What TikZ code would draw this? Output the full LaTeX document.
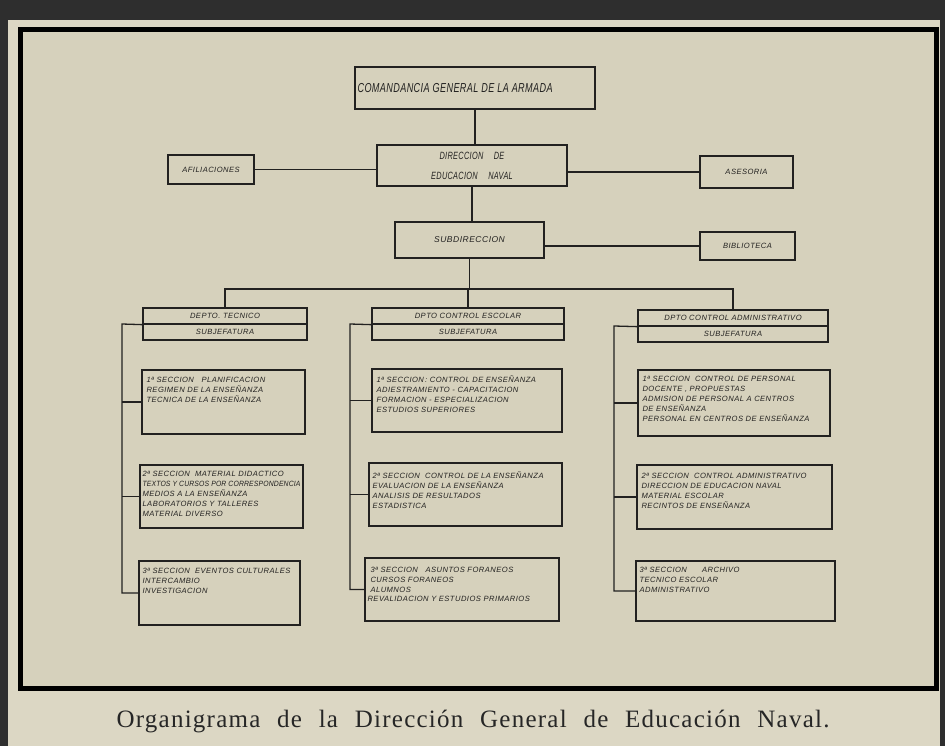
\documentclass[tikz,border=0pt]{standalone}
\usepackage{fontspec}
\setmainfont{Liberation Serif}
\setsansfont{Liberation Sans}
\newfontfamily\handfont[LetterSpace=6]{Liberation Sans}
\newfontfamily\handcond[LetterSpace=3,FakeStretch=0.7]{Liberation Sans}
\newfontfamily\handtight[LetterSpace=2,FakeStretch=0.9]{Liberation Sans}
\newfontfamily\capfont[LetterSpace=5]{Liberation Serif}
\definecolor{ink}{HTML}{222120}
\definecolor{paper}{HTML}{DCD7C4}
\definecolor{paperin}{HTML}{D6D1BC}
\definecolor{dark}{HTML}{2E2E2E}
\tikzset{
  box/.style={draw=ink, line width=1.3pt, inner sep=0pt},
  hand/.style={font=\handfont\itshape\fontsize{7.6}{10}\selectfont, text=ink, align=left, inner sep=0pt, anchor=north west},
  handc/.style={font=\handfont\itshape\fontsize{7.6}{10}\selectfont, text=ink, align=center},
  big/.style={font=\handcond\itshape\fontsize{13}{20}\selectfont, text=ink, align=left, inner sep=0pt},
  conn/.style={draw=ink, line width=1.3pt},
}
\begin{document}
\begin{tikzpicture}[x=1pt,y=-1pt]
\useasboundingbox (0,0) rectangle (945,746);
\fill[dark] (0,0) rectangle (945,746);
\fill[paper] (8,20) rectangle (940,746);
\fill[paperin] (20,30) rectangle (936,688);
\draw[black, line width=5pt] (20,30) rectangle (936,688);

% top level
\node[box, minimum width=240pt, minimum height=42pt] (cga) at (475,88) {};
\node[big, anchor=west] (cgat) at ([xshift=3pt]cga.west) {COMANDANCIA GENERAL DE LA ARMADA};
\node[box, minimum width=190pt, minimum height=41pt, align=center, text=ink, font=\handcond\itshape\fontsize{10.5}{20}\selectfont] (den) at (472,165.5) {DIRECCION\quad DE\\EDUCACION\quad NAVAL};
\node[box, minimum width=86pt, minimum height=29pt, handc] (afi) at (211,169.5) {AFILIACIONES};
\node[box, minimum width=93pt, minimum height=32pt, handc] (ase) at (746.5,172) {ASESORIA};
\node[box, minimum width=149pt, minimum height=36pt, handc, font=\handfont\itshape\fontsize{8.5}{10}\selectfont] (sub) at (469.5,240) {SUBDIRECCION};
\node[box, minimum width=95pt, minimum height=28pt, handc] (bib) at (747.5,246) {BIBLIOTECA};

\draw[conn] (cga.south) -- (cga.south |- den.north);
\draw[conn] (afi.east) -- (afi.east -| den.west);
\draw[conn] (den.east |- ase.west) -- (ase.west);
\draw[conn] (den.south) -- (den.south |- sub.north);
\draw[conn] (sub.east |- bib.west) -- (bib.west);

% departments
\node[box, minimum width=164pt, minimum height=16pt, handc] (lt) at (225,316) {DEPTO. TECNICO};
\node[box, minimum width=164pt, minimum height=16pt, handc] (ls) at (225,332) {SUBJEFATURA};
\node[box, minimum width=192pt, minimum height=16pt, handc] (mt) at (468,316) {DPTO CONTROL ESCOLAR};
\node[box, minimum width=192pt, minimum height=16pt, handc] (ms) at (468,332) {SUBJEFATURA};
\node[box, minimum width=190pt, minimum height=16pt, handc] (rt) at (733,318) {DPTO CONTROL ADMINISTRATIVO};
\node[box, minimum width=190pt, minimum height=16pt, handc] (rs) at (733,334) {SUBJEFATURA};

\coordinate (bus) at (468,289);
\draw[conn] (sub.south) -- (sub.south |- bus);
\draw[conn] (lt.north) |- (bus) -| (rt.north);
\draw[conn] (mt.north) -- (mt.north |- bus);

% left column
\node[box, minimum width=163pt, minimum height=64pt] (l1) at (223.5,402) {};
\node[hand] (l1t) at ([shift={(5,8)}]l1.north west) {1ª SECCION\quad PLANIFICACION\\ REGIMEN DE LA ENSEÑANZA\\ TECNICA DE LA ENSEÑANZA};
\node[box, minimum width=163pt, minimum height=63pt] (l2) at (221.5,496.5) {};
\node[hand] (l2t) at ([shift={(3,7)}]l2.north west) {2ª SECCION\ \ MATERIAL DIDACTICO\\{\handtight\itshape\fontsize{7.6}{10}\selectfont TEXTOS Y CURSOS POR CORRESPONDENCIA}\\MEDIOS A LA ENSEÑANZA\\LABORATORIOS Y TALLERES\\MATERIAL DIVERSO};
\node[box, minimum width=161pt, minimum height=64pt] (l3) at (219.5,593) {};
\node[hand] (l3t) at ([shift={(4,8)}]l3.north west) {3ª SECCION\ \ EVENTOS CULTURALES\\ INTERCAMBIO\\ INVESTIGACION};
\coordinate (lx) at (122,324);
\draw[conn] (lt.south west) -- (lx) |- (l3.west);
\draw[conn] (l1.west) -- (l1.west -| lx);
\draw[conn] (l2.west) -- (l2.west -| lx);

% middle column
\node[box, minimum width=190pt, minimum height=63pt] (m1) at (467,400.5) {};
\node[hand] (m1t) at ([shift={(5,7)}]m1.north west) {1ª SECCION\,: CONTROL DE ENSEÑANZA\\ADIESTRAMIENTO - CAPACITACION\\FORMACION - ESPECIALIZACION\\ESTUDIOS SUPERIORES};
\node[box, minimum width=193pt, minimum height=63pt] (m2) at (465.5,494.5) {};
\node[hand] (m2t) at ([shift={(4,9)}]m2.north west) {2ª SECCION\ \ CONTROL DE LA ENSEÑANZA\\EVALUACION DE LA ENSEÑANZA\\ANALISIS DE RESULTADOS\\ESTADISTICA};
\node[box, minimum width=194pt, minimum height=63pt] (m3) at (462,589.5) {};
\node[hand] (m3t) at ([shift={(6,10)}]m3.north west) {3ª SECCION\quad ASUNTOS FORANEOS\\CURSOS FORANEOS\\ALUMNOS\\[-1pt]\hspace*{-3pt}REVALIDACION Y ESTUDIOS PRIMARIOS};
\coordinate (mx) at (350,324);
\draw[conn] (mt.south west) -- (mx) |- (m3.west);
\draw[conn] (m1.west) -- (m1.west -| mx);
\draw[conn] (m2.west) -- (m2.west -| mx);

% right column
\node[box, minimum width=192pt, minimum height=66pt] (r1) at (734,403) {};
\node[hand] (r1t) at ([shift={(5,7)}]r1.north west) {1ª SECCION\ \ CONTROL DE PERSONAL\\DOCENTE , PROPUESTAS\\ADMISION DE PERSONAL A CENTROS\\DE ENSEÑANZA\\PERSONAL EN CENTROS DE ENSEÑANZA};
\node[box, minimum width=195pt, minimum height=64pt] (r2) at (734.5,497) {};
\node[hand] (r2t) at ([shift={(5,9)}]r2.north west) {2ª SECCION\ \ CONTROL ADMINISTRATIVO\\DIRECCION DE EDUCACION NAVAL\\MATERIAL ESCOLAR\\RECINTOS DE ENSEÑANZA};
\node[box, minimum width=199pt, minimum height=60pt] (r3) at (735.5,591) {};
\node[hand] (r3t) at ([shift={(4,7)}]r3.north west) {3ª SECCION\qquad ARCHIVO\\TECNICO ESCOLAR\\ADMINISTRATIVO};
\coordinate (rx) at (614,326);
\draw[conn] (rt.south west) -- (rx) |- (r3.west);
\draw[conn] (r1.west) -- (r1.west -| rx);
\draw[conn] (r2.west) -- (r2.west -| rx);

% caption
\node[font=\capfont\fontsize{25}{28}\selectfont, text=black!85, inner sep=0pt] (cap) at (473,722)
  {\makebox[713pt][s]{Organigrama de la Dirección General de Educación Naval.}};
\end{tikzpicture}
\end{document}
